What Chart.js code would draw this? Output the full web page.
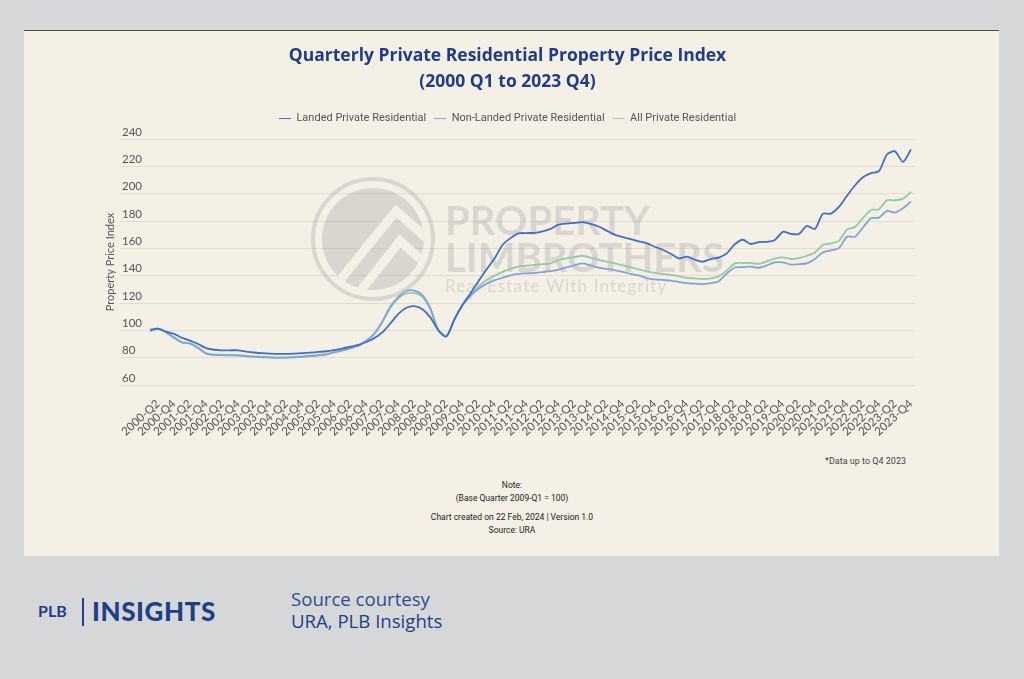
<!DOCTYPE html>
<html>
<head>
<meta charset="utf-8">
<script src="https://cdn.jsdelivr.net/npm/chart.js@4.4.1/dist/chart.umd.min.js"></script>
<style>
  body { margin: 0; width: 1024px; height: 679px; background: #d6d7d9; font-family: Lato, sans-serif; position: relative; overflow: hidden; }
  #card { position: absolute; left: 24px; top: 30px; width: 975px; height: 526px; background: #f5f0e6; border-top: 1px solid #4a4a4a; box-sizing: border-box; }
  #chart { position: absolute; left: 24px; top: 31px; }
  .note { position: absolute; font-family: Roboto, sans-serif; font-size: 8.5px; color: #222; transform: translate(-50%, -50%); white-space: nowrap; }
  #dataNote { position: absolute; font-family: Roboto, sans-serif; font-size: 9px; color: #444; right: 118px; top: 456px; }
  #plb { position: absolute; left: 38px; top: 601px; font-weight: 700; font-size: 16px; color: #1e3f8a; }
  #bar { position: absolute; left: 82px; top: 598px; width: 2px; height: 28px; background: #1e3f8a; }
  #insights { position: absolute; left: 92px; top: 595px; font-weight: 900; font-size: 26px; color: #1e3f8a; letter-spacing: 0.6px; }
  .src { position: absolute; left: 291px; font-family: "Open Sans", sans-serif; font-size: 18.6px; white-space: nowrap; }
</style>
</head>
<body>
<div id="card"></div>
<canvas id="chart" width="975" height="425"></canvas>

<div id="dataNote">*Data up to Q4 2023</div>
<div class="note" style="left:512px; top:485px;">Note:</div>
<div class="note" style="left:512px; top:498px;">(Base Quarter 2009-Q1 = 100)</div>
<div class="note" style="left:512px; top:517px;">Chart created on 22 Feb, 2024 | Version 1.0</div>
<div class="note" style="left:512px; top:530px;">Source: URA</div>

<div id="plb">PLB</div>
<div id="bar"></div>
<div id="insights">INSIGHTS</div>
<div class="src" style="top:586px; color:#2d4e93;">Source courtesy</div>
<div class="src" style="top:608px; color:#1e3f8a;">URA, PLB Insights</div>

<script>
// Quarter labels, 2000-Q1 .. 2023-Q4
const quarters = [];
for (let y = 2000; y <= 2023; y++) {
    for (let q = 1; q <= 4; q++) quarters.push(`${y}-Q${q}`);
}
// only Q2 and Q4 get a label on the axis
const tickQuarters = quarters.filter(q => q.endsWith("Q2") || q.endsWith("Q4"));

const yTicks = [60, 80, 100, 120, 140, 160, 180, 200, 220, 240];

const landed = [
    100.5, 101.2, 99.0, 97.4, 94.5, 92.5, 90.0, 87.0, 85.8, 85.4,
    85.4, 85.4, 84.5, 83.8, 83.3, 83.0, 82.8, 82.8, 83.0, 83.3,
    83.7, 84.2, 84.7, 85.6, 86.7, 88.0, 89.3, 91.5, 94.3, 98.5,
    105.0, 112.0, 116.5, 117.7, 115.5, 109.5, 100.0, 95.6, 108.0, 118.5,
    127.0, 136.0, 144.5, 152.5, 162.5, 167.5, 171.0, 171.2, 171.4, 172.5,
    174.3, 177.3, 178.2, 178.6, 179.2, 178.0, 176.0, 173.0, 170.0, 168.2,
    166.7, 165.2, 163.8, 161.2, 159.0, 156.0, 152.7, 153.9, 151.8, 150.2,
    152.2, 153.2, 156.3, 163.0, 166.3, 163.2, 164.6, 164.8, 166.2, 172.1,
    170.6, 170.4, 176.5, 174.1, 185.4, 185.4, 190.3, 198.3, 206.0, 212.0,
    215.0, 216.5, 228.7, 231.0, 223.3, 232.3
];

const nonLanded = [
    99.5, 101.0, 98.5, 94.5, 91.0, 90.3, 87.0, 83.0, 82.0, 81.8,
    81.7, 81.6, 81.0, 80.6, 80.3, 80.0, 79.8, 79.9, 80.2, 80.6,
    81.1, 81.6, 82.3, 83.8, 85.2, 86.8, 88.6, 92.3, 97.5, 106.5,
    117.5, 124.5, 128.8, 129.0, 125.8, 116.0, 100.0, 95.6, 108.0, 118.3,
    125.0, 130.4, 134.0, 136.6, 138.5, 140.3, 141.4, 141.7, 142.0, 142.6,
    143.3, 144.5, 146.1, 147.6, 149.0, 147.5, 145.9, 145.0, 144.1, 142.8,
    141.3, 140.2, 138.3, 137.3, 136.9, 136.4, 135.5, 134.5, 134.2, 133.8,
    134.5, 136.0, 141.5, 146.0, 146.3, 146.6, 145.8, 147.5, 149.7, 149.7,
    148.1, 148.5, 149.0, 152.2, 157.0, 158.5, 160.2, 168.5, 168.5, 175.2,
    182.1, 182.5, 187.4, 186.2, 189.4, 194.2
];

const allPrivate = [
    100.0, 101.2, 98.8, 95.0, 91.3, 90.6, 87.4, 83.4, 82.3, 82.1,
    82.0, 81.9, 81.4, 81.0, 80.7, 80.4, 80.2, 80.3, 80.6, 81.0,
    81.5, 82.0, 82.7, 84.2, 85.6, 87.2, 89.0, 92.6, 97.5, 106.0,
    116.5, 123.5, 127.0, 127.2, 124.5, 115.5, 100.0, 95.6, 108.0, 118.4,
    125.5, 132.0, 136.9, 140.0, 142.8, 145.0, 146.7, 147.3, 147.9, 148.4,
    149.1, 151.3, 152.6, 153.6, 154.6, 153.2, 151.5, 150.3, 149.1, 147.6,
    146.0, 144.7, 143.1, 142.0, 141.3, 140.6, 139.6, 138.4, 138.0, 137.5,
    138.0, 139.5, 143.7, 149.0, 149.3, 149.3, 148.6, 150.5, 152.5, 153.4,
    152.2, 152.9, 154.6, 157.0, 162.6, 163.6, 165.5, 173.6, 175.7, 182.1,
    188.1, 188.6, 195.2, 195.2, 196.4, 201.2
];

const toPoints = arr => arr.map((v, i) => ({ x: i, y: v }));

// faint company watermark behind the lines
const watermark = {
    id: "watermark",
    beforeDatasetsDraw(chart) {
        const ctx = chart.ctx;
        const grey = "rgba(160,160,160,0.33)";
        ctx.save();
        // ring + disc
        ctx.strokeStyle = grey;
        ctx.lineWidth = 4;
        ctx.beginPath();
        ctx.arc(349, 208, 60, 0, Math.PI * 2);
        ctx.stroke();
        ctx.fillStyle = grey;
        ctx.beginPath();
        ctx.arc(349, 208, 51, 0, Math.PI * 2);
        ctx.fill();
        // chevrons cut out of the disc
        ctx.save();
        ctx.beginPath();
        ctx.arc(349, 208, 51, 0, Math.PI * 2);
        ctx.clip();
        ctx.strokeStyle = "#f5f0e6";
        ctx.lineWidth = 9;
        ctx.beginPath();
        ctx.moveTo(312, 254); ctx.lineTo(372, 180); ctx.lineTo(408, 212);
        ctx.moveTo(330, 268); ctx.lineTo(376, 210); ctx.lineTo(408, 238);
        ctx.stroke();
        ctx.restore();
        // text
        ctx.fillStyle = grey;
        ctx.textBaseline = "alphabetic";
        ctx.font = "bold 40px Lato";
        ctx.fillText("PROPERTY", 421, 204);
        ctx.fillText("LIMBROTHERS", 421, 241);
        ctx.font = "17px Lato";
        ctx.letterSpacing = "1.2px";
        ctx.fillText("Real Estate With Integrity", 421, 261);
        ctx.restore();
    }
};

// a bit more room under the legend
const legendGap = {
    id: "legendGap",
    beforeInit(chart) {
        const fit = chart.legend.fit;
        chart.legend.fit = function () {
            fit.bind(chart.legend)();
            this.height += 5;
        };
    }
};

new Chart(document.getElementById("chart"), {
    type: "line",
    data: {
        datasets: [
            { label: "Landed Private Residential", data: toPoints(landed), borderColor: "#3f6fc6", backgroundColor: "#3f6fc6" },
            { label: "Non-Landed Private Residential", data: toPoints(nonLanded), borderColor: "#7fa5da", backgroundColor: "#7fa5da" },
            { label: "All Private Residential", data: toPoints(allPrivate), borderColor: "#93c9a6", backgroundColor: "#93c9a6" }
        ]
    },
    options: {
        responsive: false,
        animation: false,
        layout: { padding: { left: 76, right: 84, top: 0, bottom: 0 } },
        elements: {
            line: { borderWidth: 1.8, tension: 0.25 },
            point: { radius: 0, pointStyle: "line" }
        },
        plugins: {
            tooltip: { enabled: false },
            title: {
                display: true,
                text: ["Quarterly Private Residential Property Price Index", "(2000 Q1 to 2023 Q4)"],
                color: "#1f3c88",
                font: { family: "Open Sans", size: 17.5, weight: "bold", lineHeight: 1.43 },
                padding: { top: 13, bottom: 11 }
            },
            legend: {
                labels: {
                    usePointStyle: true,
                    pointStyle: "line",
                    pointStyleWidth: 12,
                    color: "#555",
                    font: { family: "Roboto", size: 11 },
                    padding: 8
                }
            }
        },
        scales: {
            x: {
                type: "linear",
                min: -3.75,
                max: 95.5,
                grid: { display: false },
                border: { display: false },
                afterBuildTicks: axis => {
                    axis.ticks = tickQuarters.map(q => ({ value: quarters.indexOf(q) }));
                },
                afterFit: axis => { axis.height = 71; },
                ticks: {
                    autoSkip: false,
                    minRotation: 42,
                    maxRotation: 42,
                    padding: 4,
                    color: "#555",
                    font: { family: "Lato", size: 11.5 },
                    callback: value => quarters[value]
                }
            },
            y: {
                min: 60,
                max: 240,
                afterBuildTicks: axis => {
                    axis.ticks = yTicks.map(v => ({ value: v }));
                },
                afterFit: axis => { axis.width = 20; },
                grid: { color: "#e2dcd1", lineWidth: 1, drawTicks: false },
                border: { display: false },
                ticks: {
                    mirror: true,
                    padding: 2,
                    labelOffset: -7,
                    color: "#555",
                    font: { family: "Lato", size: 11.5 }
                },
                title: {
                    display: true,
                    text: "Property Price Index",
                    color: "#555",
                    font: { family: "Lato", size: 11 }
                }
            }
        }
    },
    plugins: [watermark, legendGap]
});
</script>
</body>
</html>
